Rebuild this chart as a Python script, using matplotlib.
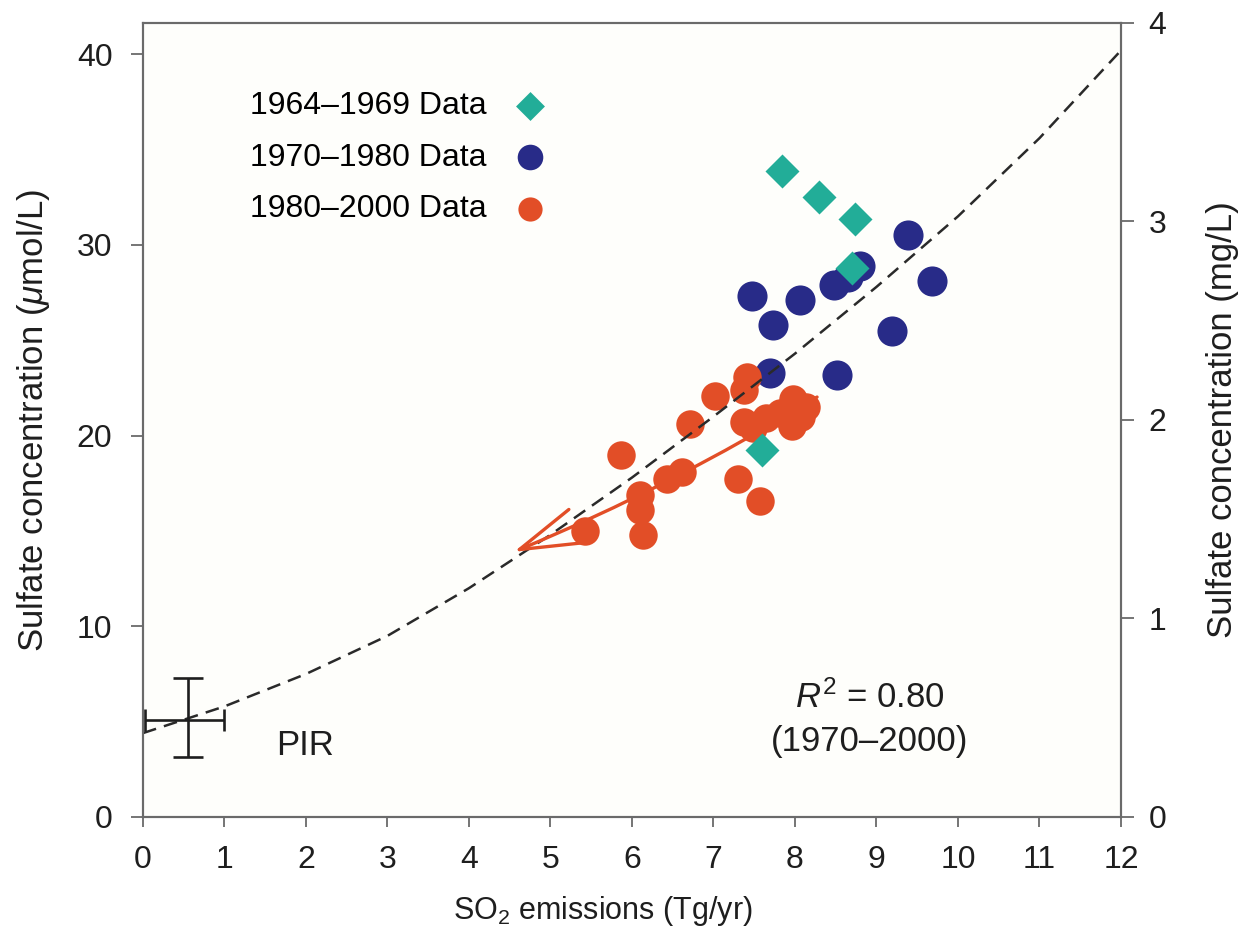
import matplotlib
matplotlib.use('Agg')
import matplotlib.pyplot as plt
from matplotlib.patches import FancyArrowPatch

plt.rcParams['font.family'] = ['Liberation Sans', 'DejaVu Sans']
plt.rcParams['mathtext.fontset'] = 'custom'
plt.rcParams['mathtext.rm'] = 'Liberation Sans'
plt.rcParams['mathtext.it'] = 'Liberation Sans:italic'

# 1964-1969 observations (SO2 emissions Tg/yr, sulfate umol/L)
early_x = [7.84, 8.29, 8.74, 8.70, 7.59]
early_y = [33.9, 32.5, 31.35, 28.8, 19.25]

# 1970-1980 observations
mid_x = [9.39, 8.80, 8.65, 8.48, 9.68, 8.06, 7.47, 7.73, 9.19, 7.69, 8.51]
mid_y = [30.5, 28.9, 28.3, 27.9, 28.1, 27.1, 27.3, 25.8, 25.5, 23.3, 23.2]

# 1980-2000 observations
late_x = [7.41, 7.37, 7.02, 7.98, 8.14, 7.82, 7.37, 7.65, 7.96, 7.49, 8.08,
          6.71, 5.87, 6.62, 6.43, 7.30, 7.57, 6.10, 6.10, 6.14, 5.42]
late_y = [23.1, 22.4, 22.1, 21.9, 21.5, 21.2, 20.7, 20.9, 20.5, 20.4, 21.0,
          20.6, 19.0, 18.1, 17.7, 17.7, 16.55, 16.9, 16.1, 14.8, 15.0]

# regression curve (1970-2000)
fit_x = [0, 1, 2, 3, 4, 5, 6, 7, 8, 9, 10, 11, 12]
fit_y = [4.4, 5.8, 7.5, 9.5, 12.0, 14.8, 17.8, 21.0, 24.3, 27.8, 31.5, 35.6, 40.2]

# pre-industrial reference with uncertainty
pir_x = 0.55
pir_y = 5.07
pir_xerr = [[0.53], [0.45]]
pir_yerr = [[1.93], [2.23]]

# trend of the recent decades
trend_start = (8.3, 22.1)
trend_end = (4.52, 13.85)

x_ticks = list(range(0, 13))
y_ticks = [0, 10, 20, 30, 40]
mg_ticks = [0, 1, 2, 3, 4]
UMOL_TO_MG = 96.06 / 1000.0

TEAL = '#22ad98'
NAVY = '#282b88'
ORANGE = '#e24e27'
SPINE = '#6a6a6a'
INK = '#1e1e1e'

fig = plt.figure(figsize=(12.4, 9.42), dpi=100)
ax = fig.add_axes([0.1153, 0.1327, 0.7887, 0.8429])
ax.set_facecolor('#fefefb')

ax.scatter(mid_x, mid_y, s=470, marker='o', color=NAVY, linewidths=0,
           zorder=3, label='1970\u20131980 Data')
ax.scatter(late_x, late_y, s=420, marker='o', color=ORANGE, linewidths=0,
           zorder=4, label='1980\u20132000 Data')
ax.scatter(early_x, early_y, s=300, marker='D', color=TEAL, linewidths=0,
           zorder=5, label='1964\u20131969 Data')

ax.plot(fit_x, fit_y, color='#2a2a2a', lw=1.8, linestyle=(0, (5.5, 3.3)), zorder=6)

# PIR cross: vertical and horizontal bars have different cap sizes
ax.errorbar(pir_x, pir_y, yerr=pir_yerr, fmt='none', ecolor=INK,
            elinewidth=1.9, capsize=10.5, capthick=1.9, zorder=6)
ax.errorbar(pir_x, pir_y, xerr=pir_xerr, fmt='none', ecolor=INK,
            elinewidth=1.9, capsize=8, capthick=1.9, zorder=6)
ax.text(1.99, 3.76, 'PIR', fontsize=25, ha='center', va='center', color=INK)

arrow = FancyArrowPatch(trend_start, trend_end,
                        arrowstyle='->,head_length=2.2,head_width=0.65',
                        mutation_scale=20, color=ORANGE, lw=2.4,
                        connectionstyle='arc3,rad=-0.04', zorder=7)
ax.add_patch(arrow)

ax.text(8.92, 6.27, r'$R^2$ = 0.80', fontsize=25, ha='center', va='center',
        color=INK)
ax.text(8.92, 3.97, '(1970\u20132000)', fontsize=25, ha='center', va='center',
        color=INK)

ax.set_xlim(0, 12)
ax.set_ylim(0, 4 / UMOL_TO_MG)
ax.set_xticks(x_ticks)
ax.set_yticks(y_ticks)
ax.tick_params(axis='x', direction='out', length=7, width=1.3, color=SPINE,
               labelsize=23, pad=13, labelcolor=INK)
ax.tick_params(axis='y', direction='out', length=9, width=1.3, color=SPINE,
               labelsize=23, pad=13, labelcolor=INK)
for sp in ax.spines.values():
    sp.set_color(SPINE)
    sp.set_linewidth(1.5)

ax.set_xlabel(r'SO$_2$ emissions (Tg/yr)', fontsize=22, labelpad=14, x=0.47,
              color=INK)
ax.set_ylabel(r'Sulfate concentration ($\mu$mol/L)', fontsize=25, labelpad=18,
              color=INK)

ax2 = ax.twinx()
ax2.set_ylim(0, 4)
ax2.set_yticks(mg_ticks)
ax2.tick_params(axis='y', direction='out', length=9, width=1.3, color=SPINE,
                labelsize=23, pad=11, labelcolor=INK)
for sp in ax2.spines.values():
    sp.set_color(SPINE)
    sp.set_linewidth(1.5)
ax2.set_ylabel('Sulfate concentration (mg/L)', fontsize=25, labelpad=28,
               color=INK)

handles, labels = ax.get_legend_handles_labels()
order = [2, 0, 1]
ax.legend([handles[i] for i in order], [labels[i] for i in order],
          loc='upper left', bbox_to_anchor=(0.2016, 0.903),
          bbox_transform=fig.transFigure, frameon=False, markerfirst=False,
          fontsize=23, handlelength=1.0, handletextpad=0.85, labelspacing=0.67,
          borderpad=0, borderaxespad=0, scatterpoints=1, markerscale=0.85)

fig.savefig('out.png', dpi=100, facecolor='white')
